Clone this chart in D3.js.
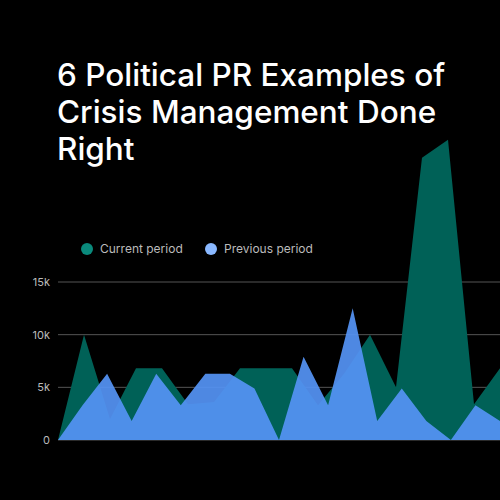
<!DOCTYPE html><html><head><script src="https://cdn.jsdelivr.net/npm/d3@7"></script>
<style>body{margin:0;background:#000}</style></head><body><svg id="c" width="500" height="500"></svg>
<script>
const titleLines=["6 Political PR Examples of","Crisis Management Done","Right"];
const current=[0,10,2,6.8,6.8,3.4,3.6,6.8,6.8,6.8,3.3,6.3,10,5,26.8,28.5,3.4,6.8];
const previous=[0,3.3,6.3,1.8,6.3,3.3,6.3,6.3,4.9,0,7.9,3.3,12.5,1.8,4.9,1.8,0,3.3,1.8];
const yTicks=[0,5,10,15];
const tickLabels=["0","5k","10k","15k"];
const svg=d3.select("#c");
svg.append("rect").attr("width",500).attr("height",500).attr("fill","#000");
const f="Inter, 'Noto Sans', sans-serif";
svg.selectAll(".t").data(titleLines).join("text").attr("x",57).attr("y",(d,i)=>86+i*37)
 .attr("fill","#fff").attr("font-family",f).attr("font-size",31.5).attr("font-weight",500).text(d=>d);
const y=d3.scaleLinear().domain([0,15]).range([440,282]);
const xc=d3.scaleLinear().domain([0,current.length-1]).range([58,500]);
const xp=d3.scaleLinear().domain([0,previous.length-1]).range([58,500]);
const g=svg.append("g");
g.selectAll("line").data(yTicks).join("line").attr("x1",58).attr("x2",500).attr("y1",d=>y(d)).attr("y2",d=>y(d)).attr("stroke","#555").attr("stroke-width",1);
g.selectAll("text").data(yTicks).join("text").attr("x",50).attr("y",d=>y(d)+4).attr("text-anchor","end")
 .attr("fill","#bbb").attr("font-family",f).attr("font-size",11).text((d,i)=>tickLabels[i]);
svg.append("path").datum(current).attr("fill","#006157")
 .attr("d",d3.area().x((d,i)=>xc(i)).y0(y(0)).y1(d=>y(d)));
svg.append("path").datum(previous).attr("fill","#5594f5").attr("fill-opacity",0.92)
 .attr("d",d3.area().x((d,i)=>xp(i)).y0(y(0)).y1(d=>y(d)));
const leg=[["Current period","#0a8a7c",87],["Previous period","#8ab8ff",211]];
leg.forEach(([t,c,x])=>{svg.append("circle").attr("cx",x).attr("cy",249).attr("r",6).attr("fill",c);
 svg.append("text").attr("x",x+13).attr("y",253).attr("fill","#bbb").attr("font-family",f).attr("font-size",12).text(t);});
</script></body></html>
